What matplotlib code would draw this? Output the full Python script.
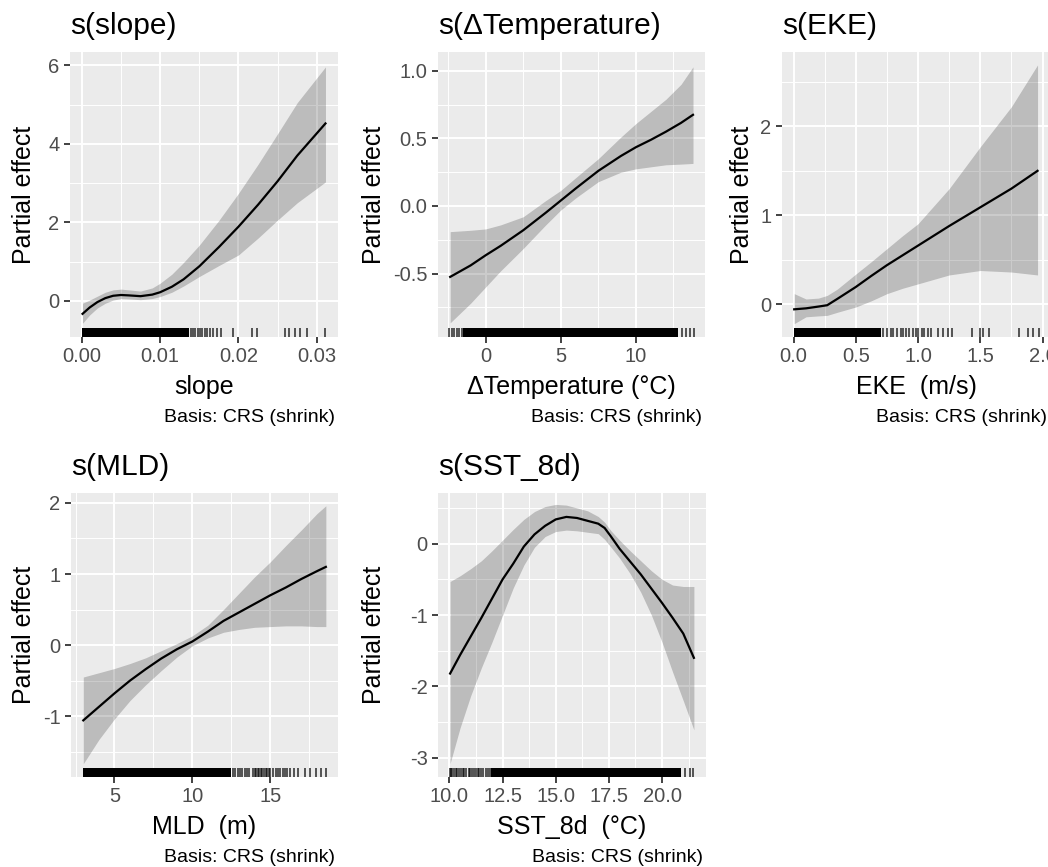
import numpy as np
import matplotlib
matplotlib.use('Agg')
import matplotlib.pyplot as plt
from matplotlib.transforms import offset_copy

plt.rcParams['font.family'] = ['Liberation Sans', 'DejaVu Sans']

W, H = 1048, 867

# --- s(slope) ---
slope_x = [0.0001, 0.001, 0.002, 0.003, 0.004, 0.005, 0.006, 0.0075, 0.009, 0.01,
           0.0115, 0.013, 0.015, 0.0175, 0.02, 0.0225, 0.025, 0.0275, 0.0311]
slope_fit = [-0.33, -0.17, -0.03, 0.07, 0.13, 0.15, 0.14, 0.12, 0.16, 0.22,
             0.36, 0.55, 0.88, 1.37, 1.89, 2.45, 3.05, 3.7, 4.52]
slope_upper = [-0.06, 0.02, 0.12, 0.22, 0.28, 0.30, 0.28, 0.25, 0.33, 0.45,
               0.68, 0.98, 1.42, 2.05, 2.74, 3.48, 4.26, 5.05, 5.96]
slope_lower = [-0.57, -0.36, -0.18, -0.06, 0.02, 0.06, 0.05, 0.03, 0.06, 0.11,
               0.22, 0.38, 0.62, 0.9, 1.17, 1.6, 2.06, 2.5, 3.03]
slope_rug_dense = [(0.0, 0.0137)]
slope_rug = [0.0139, 0.0142, 0.0145, 0.0148, 0.0151, 0.0154, 0.0157, 0.016, 0.0164,
             0.0168, 0.0172, 0.0178, 0.0193, 0.0217, 0.0223, 0.026, 0.0265, 0.0272,
             0.0279, 0.0288, 0.0311]

# --- s(ΔTemperature) ---
dtemp_x = [-2.36, -1, 0, 1, 2.5, 4, 5, 6, 7.5, 9, 10, 11, 12, 13, 13.8]
dtemp_fit = [-0.525, -0.44, -0.365, -0.295, -0.18, -0.05, 0.04, 0.13, 0.26, 0.37,
             0.435, 0.49, 0.55, 0.615, 0.675]
dtemp_upper = [-0.19, -0.18, -0.17, -0.14, -0.08, 0.04, 0.115, 0.21, 0.35, 0.51,
               0.61, 0.70, 0.79, 0.9, 1.03]
dtemp_lower = [-0.865, -0.72, -0.6, -0.48, -0.315, -0.14, -0.03, 0.06, 0.18, 0.25,
               0.275, 0.29, 0.305, 0.31, 0.315]
dtemp_rug_dense = [(-1.5, 12.8)]
dtemp_rug = [-2.43, -2.27, -2.09, -1.92, -1.76, -1.6, 13.1, 13.35, 13.6, 13.85]

# --- s(EKE) ---
eke_x = [0.005, 0.1, 0.2, 0.27, 0.35, 0.5, 0.625, 0.75, 0.875, 1.0, 1.25, 1.5,
         1.75, 1.96]
eke_fit = [-0.056, -0.045, -0.025, -0.01, 0.06, 0.195, 0.32, 0.44, 0.55, 0.66,
           0.88, 1.09, 1.30, 1.50]
eke_upper = [0.12, 0.06, 0.07, 0.10, 0.17, 0.34, 0.48, 0.625, 0.77, 0.906, 1.30,
             1.77, 2.22, 2.69]
eke_lower = [-0.217, -0.14, -0.13, -0.124, -0.09, -0.03, 0.04, 0.12, 0.18, 0.23,
             0.33, 0.38, 0.363, 0.33]
eke_rug_dense = [(0.0, 0.70)]
eke_rug = [0.72, 0.75, 0.78, 0.8, 0.83, 0.86, 0.88, 0.9, 0.93, 0.96, 0.98, 1.0, 1.03,
           1.05, 1.08, 1.1, 1.16, 1.20, 1.24, 1.27, 1.43, 1.50, 1.52, 1.57, 1.81,
           1.88, 1.92, 1.97]

# --- s(MLD) ---
mld_x = [3, 4, 5, 6, 7, 8, 9, 10, 11, 12, 13, 14, 15, 16, 17, 18, 18.57]
mld_fit = [-1.06, -0.87, -0.68, -0.5, -0.34, -0.19, -0.06, 0.05, 0.19, 0.34, 0.46,
           0.58, 0.70, 0.81, 0.93, 1.04, 1.1]
mld_upper = [-0.45, -0.39, -0.33, -0.26, -0.18, -0.08, 0.02, 0.13, 0.28, 0.5, 0.73,
             0.96, 1.17, 1.4, 1.62, 1.85, 1.96]
mld_lower = [-1.67, -1.33, -1.04, -0.78, -0.56, -0.36, -0.17, -0.01, 0.1, 0.18,
             0.22, 0.25, 0.26, 0.27, 0.27, 0.26, 0.26]
mld_rug_dense = [(2.95, 12.45)]
mld_rug = [12.6, 12.75, 12.9, 13.05, 13.2, 13.35, 13.5, 13.65, 13.9, 14.0, 14.1, 14.2,
           14.3, 14.4, 14.5, 14.6, 14.7, 14.8, 14.9, 15.0, 15.2, 15.35, 15.5, 15.65,
           15.8, 15.95, 16.1, 16.3, 16.5, 16.8, 17.25, 17.55, 17.95, 18.25, 18.55]

# --- s(SST_8d) ---
sst_x = [10.03, 10.5, 11, 11.5, 12, 12.5, 13, 13.5, 14, 14.5, 15, 15.5, 16, 16.5,
         17, 17.3, 17.6, 18, 18.5, 19, 19.5, 20, 20.5, 21, 21.5]
sst_fit = [-1.82, -1.56, -1.3, -1.04, -0.77, -0.5, -0.28, -0.04, 0.13, 0.25, 0.34,
           0.375, 0.36, 0.32, 0.28, 0.22, 0.1, -0.07, -0.25, -0.43, -0.63, -0.83,
           -1.04, -1.26, -1.6]
sst_upper = [-0.53, -0.45, -0.35, -0.24, -0.1, 0.05, 0.2, 0.34, 0.45, 0.52, 0.55,
             0.54, 0.5, 0.46, 0.38, 0.3, 0.18, 0.05, -0.1, -0.24, -0.38, -0.5, -0.58,
             -0.6, -0.6]
sst_lower = [-3.08, -2.58, -2.13, -1.74, -1.38, -1.0, -0.62, -0.3, -0.05, 0.1, 0.17,
             0.19, 0.18, 0.16, 0.14, 0.06, -0.05, -0.2, -0.42, -0.68, -1.0, -1.38,
             -1.8, -2.2, -2.61]
sst_rug_dense = [(11.95, 20.9)]
sst_rug = [10.02, 10.07, 10.12, 10.2, 10.3, 10.36, 10.45, 10.55, 10.62, 10.7, 10.8,
           10.9, 10.97, 11.05, 11.15, 11.25, 11.32, 11.4, 11.5, 11.6, 11.7, 11.8,
           11.9, 21.1, 21.33, 21.47]

panels = [
    dict(title='s(slope)', xlabel='slope', x=slope_x, fit=slope_fit, up=slope_upper,
         lo=slope_lower, dense=slope_rug_dense, rug=slope_rug,
         box=(70, 52, 338, 337), xlim=(-0.0015, 0.0327), ylim=(-0.92, 6.34),
         xt=[0, 0.01, 0.02, 0.03], xtl=['0.00', '0.01', '0.02', '0.03'],
         xm=[0.005, 0.015, 0.025], yt=[0, 2, 4, 6], ytl=['0', '2', '4', '6'],
         ym=[1, 3, 5], ylx=-0.127),
    dict(title='s(\u0394Temperature)', xlabel='\u0394Temperature (\u00b0C)', x=dtemp_x,
         fit=dtemp_fit, up=dtemp_upper, lo=dtemp_lower, dense=dtemp_rug_dense,
         rug=dtemp_rug, box=(438, 52, 705, 337), xlim=(-3.17, 14.6), ylim=(-0.97, 1.14),
         xt=[0, 5, 10], xtl=['0', '5', '10'], xm=[-2.5, 2.5, 7.5, 12.5],
         yt=[-0.5, 0, 0.5, 1.0], ytl=['-0.5', '0.0', '0.5', '1.0'],
         ym=[-0.75, -0.25, 0.25, 0.75], ylx=-0.195),
    dict(title='s(EKE)', xlabel='EKE  (m/s)', x=eke_x, fit=eke_fit, up=eke_upper,
         lo=eke_lower, dense=eke_rug_dense, rug=eke_rug,
         box=(782, 52, 1050, 337), xlim=(-0.093, 2.06), ylim=(-0.367, 2.835),
         xt=[0, 0.5, 1.0, 1.5, 2.0], xtl=['0.0', '0.5', '1.0', '1.5', '2.0'],
         xm=[0.25, 0.75, 1.25, 1.75], yt=[0, 1, 2], ytl=['0', '1', '2'],
         ym=[0.5, 1.5, 2.5], ylx=-0.104),
    dict(title='s(MLD)', xlabel='MLD  (m)', x=mld_x, fit=mld_fit, up=mld_upper,
         lo=mld_lower, dense=mld_rug_dense, rug=mld_rug,
         box=(71, 493, 338, 777), xlim=(2.21, 19.35), ylim=(-1.857, 2.14),
         xt=[5, 10, 15], xtl=['5', '10', '15'], xm=[2.5, 7.5, 12.5, 17.5],
         yt=[-1, 0, 1, 2], ytl=['-1', '0', '1', '2'], ym=[-1.5, -0.5, 0.5, 1.5],
         ylx=-0.131),
    dict(title='s(SST_8d)', xlabel='SST_8d  (\u00b0C)', x=sst_x, fit=sst_fit,
         up=sst_upper, lo=sst_lower, dense=sst_rug_dense, rug=sst_rug,
         box=(438, 493, 706, 777), xlim=(9.46, 22.07), ylim=(-3.27, 0.71),
         xt=[10, 12.5, 15, 17.5, 20], xtl=['10.0', '12.5', '15.0', '17.5', '20.0'],
         xm=[11.25, 13.75, 16.25, 18.75, 21.25], yt=[-3, -2, -1, 0],
         ytl=['-3', '-2', '-1', '0'], ym=[-2.5, -1.5, -0.5, 0.5], ylx=-0.194),
]


def draw_panel(fig, p):
    l, t, r, b = p['box']
    ax = fig.add_axes([l / W, 1 - b / H, (r - l) / W, (b - t) / H])
    ax.set_facecolor('#EBEBEB')
    for s in ax.spines.values():
        s.set_visible(False)
    ax.set_axisbelow(True)

    ax.set_xlim(*p['xlim'])
    ax.set_ylim(*p['ylim'])
    ax.set_xticks(p['xt'])
    ax.set_xticklabels(p['xtl'])
    ax.set_yticks(p['yt'])
    ax.set_yticklabels(p['ytl'])
    ax.set_xticks(p['xm'], minor=True)
    ax.set_yticks(p['ym'], minor=True)
    ax.grid(which='major', color='white', lw=1.4)
    ax.grid(which='minor', color='white', lw=0.7)
    ax.tick_params(which='major', length=4.5, width=1.3, color='#333333',
                   labelcolor='#4D4D4D', labelsize=14.5, pad=3)
    ax.tick_params(which='minor', length=0)

    # confidence band + smooth
    ax.fill_between(p['x'], p['lo'], p['up'], color='black', alpha=0.2, lw=0)
    ax.plot(p['x'], p['fit'], color='black', lw=1.6)

    # rug
    xt = ax.get_xaxis_transform()
    for x0, x1 in p['dense']:
        ax.axvspan(x0, x1, ymin=0, ymax=0.03, color='black', lw=0)
    ax.vlines(p['rug'], 0, 0.03, transform=xt, colors='black', alpha=0.65, lw=1.4)

    ax.set_title(p['title'], loc='left', fontsize=21.5, pad=13)
    ax.set_xlabel(p['xlabel'], fontsize=18, labelpad=6)
    ax.set_ylabel('Partial effect', fontsize=18)
    ax.yaxis.set_label_coords(p['ylx'], 0.5)

    cap = offset_copy(ax.transAxes, fig=fig, x=-3, y=-80, units='dots')
    ax.text(1, 0, 'Basis: CRS (shrink)', transform=cap, ha='right', va='center',
            fontsize=14)
    return ax


fig = plt.figure(figsize=(W / 100, H / 100), dpi=100)
for p in panels:
    draw_panel(fig, p)
fig.savefig('out.png', dpi=100, facecolor='white')
